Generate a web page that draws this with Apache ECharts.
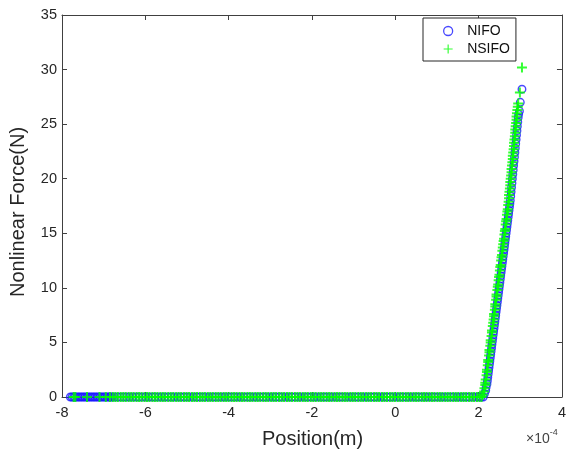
<!DOCTYPE html>
<html>
<head>
<meta charset="utf-8">
<script src="https://cdn.jsdelivr.net/npm/echarts@6/dist/echarts.min.js"></script>
<style>
html,body{margin:0;padding:0;background:#fff;}
#chart{width:569px;height:453px;}
</style>
</head>
<body>
<div id="chart"></div>
<script>
// x values are in units of 1e-4 m (axis shows "×10^-4")
const xTicks = [-8, -6, -4, -2, 0, 2, 4];
const yTicks = [0, 5, 10, 15, 20, 25, 30, 35];
const FLAT_FORCE = 0;

// NIFO: positions where the force is zero
const nifoFlatX = [-7.80,-7.76,-7.72,-7.69,-7.65,-7.61,-7.57,-7.53,-7.49,-7.45,-7.41,-7.37,-7.33,-7.29,-7.25,-7.21,-7.17,-7.13,-7.09,-7.05,-7.01,-6.97,-6.93,-6.89,-6.86,-6.83,-6.80,
-6.74,-6.67,-6.60,-6.52,-6.45,-6.38,-6.30,-6.22,-6.15,-6.07,-5.99,-5.92,-5.84,-5.77,-5.69,-5.61,-5.54,-5.46,-5.38,-5.31,-5.23,-5.16,-5.08,-5.00,-4.93,-4.85,-4.77,-4.70,-4.62,-4.55,-4.47,-4.39,-4.32,-4.24,-4.16,-4.09,-4.01,-3.94,-3.86,-3.78,-3.71,-3.63,-3.55,-3.48,-3.40,-3.33,-3.25,-3.17,-3.10,-3.02,-2.94,-2.87,-2.79,-2.72,-2.64,-2.56,-2.49,-2.41,-2.33,-2.26,-2.18,-2.11,-2.03,-1.95,-1.88,-1.80,-1.72,-1.65,-1.57,-1.50,-1.42,-1.34,-1.27,-1.19,-1.11,-1.04,-0.96,-0.89,-0.81,-0.73,-0.66,-0.58,-0.50,-0.43,-0.35,-0.28,-0.20,-0.12,-0.05,0.03,0.11,0.18,0.26,0.33,0.41,0.49,0.56,0.64,0.72,0.79,0.87,0.94,1.02,1.10,1.17,1.25,1.33,1.40,1.48,1.55,1.63,1.71,1.78,1.86,1.94,2.01,2.06];

// NIFO: rising branch
const nifoRiseX = [2.11,2.14,2.17,2.18,2.20,2.21,2.22,2.23,2.24,2.25,2.26,2.27,2.28,2.29,2.30,2.31,2.32,2.33,2.34,2.35,2.36,2.37,2.38,2.39,2.40,2.41,2.42,2.43,2.44,2.45,2.46,2.47,2.48,2.49,2.50,2.51,2.52,2.53,2.54,2.55,2.56,2.57,2.58,2.59,2.60,2.61,2.62,2.63,2.64,2.65,2.66,2.67,2.68,2.69,2.70,2.71,2.72,2.73,2.74,2.75,2.76,2.77,2.78,2.79,2.80,2.81,2.82,2.83,2.84,2.85,2.86,2.87,2.88,2.89,2.90,2.91,2.92,2.93,2.94,2.95,2.96,2.98,3.00,3.04];
const nifoRiseY = [0,0.3,0.6,0.9,1.2,1.5,1.8,2.1,2.4,2.7,3.0,3.3,3.6,3.9,4.2,4.5,4.8,5.1,5.4,5.7,6.0,6.3,6.6,6.9,7.2,7.5,7.8,8.1,8.4,8.7,9.0,9.3,9.6,9.9,10.2,10.5,10.8,11.1,11.4,11.7,12.0,12.3,12.6,12.9,13.2,13.5,13.8,14.1,14.4,14.7,15.0,15.3,15.6,15.9,16.2,16.5,16.8,17.1,17.4,17.7,18.0,18.4,18.8,19.2,19.6,20.0,20.4,20.8,21.2,21.6,22.0,22.4,22.8,23.2,23.6,24.0,24.4,24.8,25.2,25.6,25.9,26.2,27.0,28.2];

// NSIFO: positions where the force is zero
const nsifoFlatX = [-7.72,-7.68,-7.40,-7.10,-6.95,-6.85,
-6.78,-6.72,-6.66,-6.59,-6.53,-6.47,-6.40,-6.34,-6.28,-6.21,-6.15,-6.09,-6.02,-5.96,-5.90,-5.83,-5.77,-5.71,-5.64,-5.58,-5.52,-5.45,-5.39,-5.33,-5.26,-5.20,-5.14,-5.07,-5.01,-4.95,-4.88,-4.82,-4.76,-4.69,-4.63,-4.57,-4.50,-4.44,-4.38,-4.31,-4.25,-4.19,-4.12,-4.06,-4.00,-3.93,-3.87,-3.81,-3.74,-3.68,-3.62,-3.55,-3.49,-3.43,-3.36,-3.30,-3.24,-3.17,-3.11,-3.05,-2.98,-2.92,-2.86,-2.79,-2.73,-2.67,-2.60,-2.54,-2.48,-2.41,-2.35,-2.29,-2.22,-2.16,-2.10,-2.03,-1.97,-1.91,-1.84,-1.78,-1.72,-1.65,-1.59,-1.53,-1.46,-1.40,-1.34,-1.27,-1.21,-1.15,-1.08,-1.02,-0.96,-0.89,-0.83,-0.77,-0.70,-0.64,-0.58,-0.51,-0.45,-0.39,-0.32,-0.26,-0.20,-0.13,-0.07,-0.01,0.06,0.12,0.18,0.25,0.31,0.37,0.44,0.50,0.56,0.63,0.69,0.75,0.82,0.88,0.94,1.01,1.07,1.13,1.20,1.26,1.32,1.39,1.45,1.51,1.58,1.64,1.70,1.77,1.83,1.89,1.96,2.02];

// NSIFO: rising branch
const nsifoRiseX = [2.07,2.10,2.13,2.14,2.16,2.16,2.17,2.19,2.20,2.20,2.22,2.23,2.23,2.25,2.26,2.26,2.28,2.29,2.29,2.31,2.32,2.32,2.34,2.35,2.36,2.37,2.37,2.39,2.40,2.40,2.42,2.43,2.43,2.45,2.46,2.47,2.48,2.49,2.50,2.51,2.52,2.53,2.54,2.55,2.56,2.57,2.58,2.59,2.60,2.61,2.62,2.63,2.64,2.65,2.66,2.67,2.68,2.69,2.70,2.71,2.72,2.73,2.73,2.74,2.75,2.76,2.76,2.77,2.78,2.79,2.79,2.80,2.81,2.82,2.82,2.83,2.84,2.85,2.85,2.86,2.87,2.88,2.88,2.89,2.90,2.91,2.91,2.92,2.93,2.94,2.95,2.99,3.04];
const nsifoRiseY = [0,0.2,0.5,0.8,1.1,1.3,1.6,2.0,2.3,2.5,2.9,3.2,3.4,3.8,4.1,4.3,4.7,5.0,5.2,5.6,5.9,6.1,6.5,6.8,7.1,7.4,7.6,8.0,8.3,8.5,8.9,9.2,9.4,9.8,10.1,10.3,10.7,11.0,11.2,11.6,11.9,12.1,12.5,12.8,13.0,13.4,13.7,14.0,14.3,14.5,14.9,15.2,15.4,15.8,16.1,16.3,16.7,17.0,17.2,17.6,17.9,18.2,18.5,18.8,19.1,19.4,19.7,20.0,20.3,20.6,20.9,21.2,21.5,21.8,22.1,22.4,22.7,23.0,23.3,23.6,23.9,24.2,24.5,24.8,25.1,25.4,25.7,26.0,26.3,26.6,26.9,27.9,30.2];

const nifoData = nifoFlatX.map(x => [x, FLAT_FORCE]).concat(nifoRiseX.map((x, i) => [x, nifoRiseY[i]]));
const nsifoData = nsifoFlatX.map(x => [x, FLAT_FORCE]).concat(nsifoRiseX.map((x, i) => [x, nsifoRiseY[i]]));

const FONT = "'Liberation Sans', Arial, sans-serif";
const AX = '#262626';
const PLUS = 'path://M-1,-0.2L1,-0.2L1,0.2L-1,0.2Z M-0.2,-1L0.2,-1L0.2,1L-0.2,1Z';

const chart = echarts.init(document.getElementById('chart'), null, {renderer: 'canvas'});

function axisCommon(min, max, interval, showLabel, pos) {
  return {
    type: 'value', min: min, max: max, interval: interval, position: pos,
    axisLine: {show: true, onZero: false, lineStyle: {color: '#404040', width: 1}},
    axisTick: {show: true, inside: true, length: 5, lineStyle: {color: '#404040'}},
    axisLabel: {show: showLabel, color: AX, fontSize: 14.5, fontFamily: FONT, margin: 7},
    splitLine: {show: false}
  };
}

const xBottom = axisCommon(-8, 4, 2, true, 'bottom');
const xTop = axisCommon(-8, 4, 2, false, 'top');
const yLeft = axisCommon(0, 35, 5, true, 'left');
const yRight = axisCommon(0, 35, 5, false, 'right');
yLeft.axisLabel.margin = 5;
xBottom.axisLabel.margin = 8;

chart.setOption({
  animation: false,
  backgroundColor: '#ffffff',
  grid: {left: 62, right: 5, top: 15, bottom: 56, containLabel: false},
  xAxis: [xBottom, xTop],
  yAxis: [yLeft, yRight],
  legend: {
    orient: 'vertical', left: 423, top: 18,
    padding: [6, 6, 5, 20], itemGap: 4,
    itemWidth: 28, itemHeight: 9,
    backgroundColor: '#ffffff', borderColor: AX, borderWidth: 1,
    textStyle: {fontSize: 14, fontFamily: FONT, color: '#111'},
    data: [
      {name: 'NIFO', icon: 'circle', itemStyle: {color: 'rgba(0,0,0,0)', borderColor: '#1a1aff', borderWidth: 1.3}},
      {name: 'NSIFO', icon: 'path://M-1,-0.13L1,-0.13L1,0.13L-1,0.13Z M-0.13,-1L0.13,-1L0.13,1L-0.13,1Z', itemStyle: {color: '#00ff00', borderWidth: 0}}
    ]
  },
  graphic: [
    {type: 'text', left: 262, top: 429, style: {text: 'Position(m)', fontSize: 20, fontFamily: FONT, fill: AX}},
    {type: 'text', left: 526, top: 428, style: {
      text: '{a|×10}{b|-4}', fontFamily: FONT,
      rich: {a: {fontSize: 14, fill: '#444', verticalAlign: 'bottom'}, b: {fontSize: 9, fill: '#444', verticalAlign: 'top', padding: [0,0,9,0]}}
    }},
    {type: 'text', rotation: Math.PI / 2, x: 8, y: 297, style: {text: 'Nonlinear Force(N)', fontSize: 20, fontFamily: FONT, fill: AX}}
  ],
  series: [
    {
      name: 'NIFO', type: 'scatter', data: nifoData, symbol: 'circle', symbolSize: 7.5,
      itemStyle: {color: 'rgba(0,0,0,0)', borderColor: '#1a1aff', borderWidth: 1.4},
      emphasis: {disabled: true}, clip: false
    },
    {
      name: 'NSIFO', type: 'scatter', data: nsifoData, symbol: PLUS, symbolSize: 10,
      itemStyle: {color: '#00ff00', borderWidth: 0},
      emphasis: {disabled: true}, clip: false
    }
  ]
});
</script>
</body>
</html>
